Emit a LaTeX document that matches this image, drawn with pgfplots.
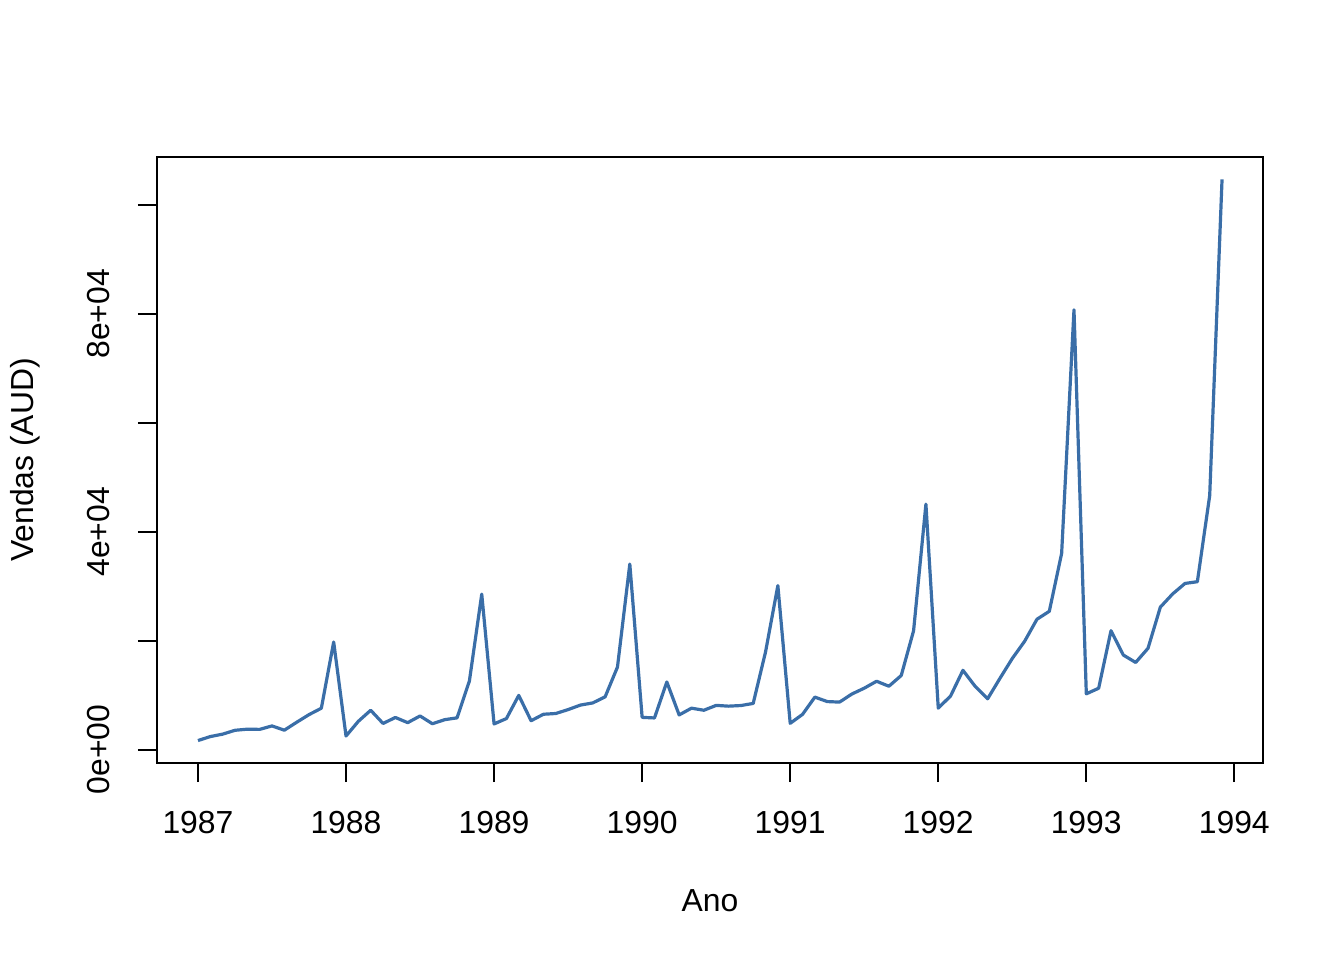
\documentclass[border=0pt]{standalone}
\usepackage{pgfplots}
\pgfplotsset{compat=1.18}
\usepackage{fontspec}
\setmainfont{Liberation Sans}
\definecolor{linecol}{HTML}{3A6EA8}
\begin{document}
\fontsize{12}{14.4}\selectfont
\begin{tikzpicture}
\path[use as bounding box] (-58.875bp,-73.875bp) rectangle (445.125bp,286.125bp);
\begin{axis}[
  at={(0,0)}, anchor=south west,
  scale only axis, width=414.75bp, height=227.25bp,
  xmin=1986.72333, xmax=1994.19333,
  ymin=-2455.02, ymax=108780.5,
  axis line style={line width=0.75bp, black},
  tick style={line width=0.75bp, black},
  tick align=outside, major tick length=7.2bp,
  xtick pos=bottom, ytick pos=left,
  xtick={1987,...,1994},
  xticklabels={1987,1988,1989,1990,1991,1992,1993,1994},
  ytick={0,20000,40000,60000,80000,100000},
  yticklabels={0e+00,,4e+04,,8e+04,},
  scaled y ticks=false,
  xticklabel style={anchor=north, yshift=-6.7bp, font=\fontsize{12}{14.4}\selectfont},
  yticklabel style={rotate=90, anchor=south, yshift=6.4bp, font=\fontsize{12}{14.4}\selectfont},
  xlabel={Ano}, ylabel={Vendas (AUD)},
  xlabel style={at={(axis description cs:0.5,0)}, anchor=center, yshift=-51.8bp, font=\fontsize{12}{14.4}\selectfont},
  ylabel style={at={(axis description cs:0,0.5)}, anchor=center, yshift=49.5bp, font=\fontsize{12}{14.4}\selectfont},
  /pgf/number format/assume math mode=true,
  clip=false,
]
\addplot[color=linecol, line width=1.2bp, line join=round] table[x=t, y=v] {
t v
1987.00000 1664.81
1987.08333 2397.53
1987.16667 2840.71
1987.25000 3547.29
1987.33333 3752.96
1987.41667 3714.74
1987.50000 4349.61
1987.58333 3566.34
1987.66667 5021.82
1987.75000 6423.48
1987.83333 7600.60
1987.91667 19756.21
1988.00000 2499.81
1988.08333 5198.24
1988.16667 7225.14
1988.25000 4806.03
1988.33333 5900.88
1988.41667 4951.34
1988.50000 6179.12
1988.58333 4752.15
1988.66667 5496.43
1988.75000 5835.10
1988.83333 12600.08
1988.91667 28541.72
1989.00000 4717.02
1989.08333 5702.63
1989.16667 9957.58
1989.25000 5304.78
1989.33333 6492.43
1989.41667 6630.80
1989.50000 7349.62
1989.58333 8176.62
1989.66667 8573.17
1989.75000 9690.50
1989.83333 15151.84
1989.91667 34061.01
1990.00000 5921.10
1990.08333 5814.58
1990.16667 12421.25
1990.25000 6369.77
1990.33333 7609.12
1990.41667 7224.75
1990.50000 8121.22
1990.58333 7979.25
1990.66667 8093.06
1990.75000 8476.70
1990.83333 17914.66
1990.91667 30114.41
1991.00000 4826.64
1991.08333 6470.23
1991.16667 9638.77
1991.25000 8821.17
1991.33333 8722.37
1991.41667 10209.48
1991.50000 11276.55
1991.58333 12552.22
1991.66667 11637.39
1991.75000 13606.89
1991.83333 21822.11
1991.91667 45060.69
1992.00000 7615.03
1992.08333 9849.69
1992.16667 14558.40
1992.25000 11587.33
1992.33333 9332.56
1992.41667 13082.09
1992.50000 16732.78
1992.58333 19888.61
1992.66667 23933.38
1992.75000 25391.35
1992.83333 36024.80
1992.91667 80721.71
1993.00000 10243.24
1993.08333 11266.88
1993.16667 21826.84
1993.25000 17357.33
1993.33333 15997.79
1993.41667 18601.53
1993.50000 26155.15
1993.58333 28586.52
1993.66667 30505.41
1993.75000 30821.33
1993.83333 46634.38
1993.91667 104660.67
};
\end{axis}
\end{tikzpicture}
\end{document}
